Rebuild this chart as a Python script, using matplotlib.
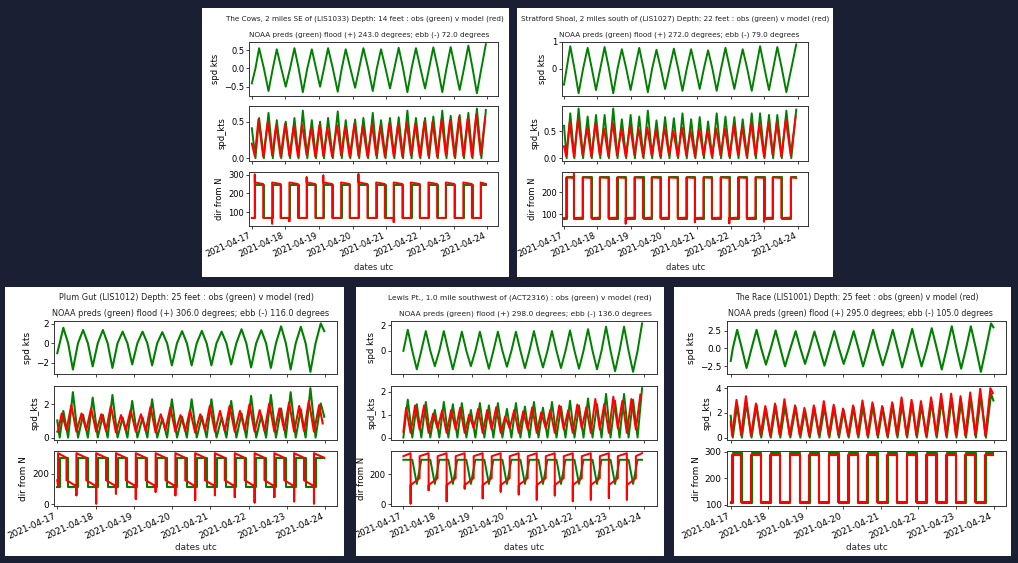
import numpy as np
import matplotlib
matplotlib.use("Agg")
import matplotlib.pyplot as plt
import matplotlib.dates as mdates
from matplotlib.patches import Rectangle

# ======================= DATA =======================
start_date = '2021-04-17T00:00:00'

# ---- The Cows ----
cows_title = "The Cows, 2 miles SE of (LIS1033) Depth: 14 feet : obs (green) v model (red)"
cows_flood, cows_ebb = 243.0, 72.0
cows_hours = [0, 2.6, 5.2, 8.6, 11.9, 15.0, 17.8, 21.0, 24.2, 27.3, 30.4, 33.4, 36.4, 39.6,
              42.8, 45.8, 48.7, 51.5, 54.4, 57.8, 61.3, 64.2, 67.0, 70.3, 73.7, 76.6, 79.6,
              83.0, 86.3, 89.2, 92.2, 95.4, 98.6, 101.7, 104.8, 107.9, 111.0, 114.0, 117.1,
              120.3, 123.6, 126.5, 129.5, 132.7, 135.9, 138.9, 141.9, 145.1, 148.3, 151.4,
              154.5, 157.5, 160.6, 163.8, 167.0]
cows_pred = [-0.41, 0, 0.55, 0, -0.62, 0, 0.52, 0, -0.50, 0, 0.55, 0, -0.65, 0, 0.52, 0,
             -0.50, 0, 0.55, 0, -0.64, 0, 0.52, 0, -0.53, 0, 0.55, 0, -0.62, 0, 0.52, 0,
             -0.55, 0, 0.56, 0, -0.65, 0, 0.55, 0, -0.55, 0, 0.57, 0, -0.65, 0, 0.58, 0,
             -0.59, 0, 0.62, 0, -0.68, 0, 0.66]
cows_model = [0.20, 0.03, 0.53, 0.02, 0.50, 0.04, 0.45, 0.02, 0.47, 0.03, 0.44, 0.02, 0.46,
              0.04, 0.42, 0.02, 0.45, 0.03, 0.42, 0.02, 0.45, 0.04, 0.43, 0.02, 0.47, 0.03,
              0.44, 0.02, 0.46, 0.04, 0.44, 0.02, 0.48, 0.03, 0.46, 0.02, 0.49, 0.04, 0.47,
              0.02, 0.50, 0.03, 0.50, 0.02, 0.53, 0.04, 0.52, 0.02, 0.56, 0.03, 0.54, 0.02,
              0.60, 0.04, 0.56]
cows_model_flood = [258, 250]
cows_model_ebb = [70, 70]
cows_spike_hours = [2.6, 15.0, 27.3, 39.6, 51.5, 76.6, 101.7]
cows_spike_vals = [300, 40, 52, 285, 295, 302, 48]
cows_lead = 0.5
cows_yticks = [[-0.5, 0.0, 0.5], [0.0, 0.5], [100, 200, 300]]

# ---- Stratford Shoal ----
strat_title = "Stratford Shoal, 2 miles south of (LIS1027) Depth: 22 feet : obs (green) v model (red)"
strat_flood, strat_ebb = 272.0, 79.0
strat_hours = [0, 1.9, 4.5, 7.5, 10.5, 13.75, 17.0, 20.0, 23.0, 26.1, 29.2, 32.3, 35.4, 38.5,
               41.6, 44.75, 47.9, 51.0, 54.1, 57.2, 60.3, 63.4, 66.5, 69.6, 72.7, 75.85, 79.0,
               82.1, 85.2, 88.3, 91.4, 94.5, 97.6, 100.6, 103.6, 106.7, 109.8, 112.95, 116.1,
               119.3, 122.5, 125.5, 128.5, 131.75, 135.0, 138.0, 141.0, 144.2, 147.4, 150.4,
               153.4, 156.65, 159.9, 163.45, 167.0]
strat_pred = [-0.60, 0, 0.83, 0, -0.92, 0, 0.77, 0, -0.80, 0, 0.80, 0, -0.92, 0, 0.72, 0,
              -0.80, 0, 0.77, 0, -0.88, 0, 0.70, 0, -0.76, 0, 0.74, 0, -0.83, 0, 0.72, 0,
              -0.76, 0, 0.68, 0, -0.83, 0, 0.77, 0, -0.76, 0, 0.72, 0, -0.83, 0, 0.83, 0,
              -0.80, 0, 0.80, 0, -0.88, 0, 0.90]
strat_model = [0.22, 0.04, 0.66, 0.03, 0.72, 0.05, 0.57, 0.03, 0.65, 0.06, 0.55, 0.03, 0.66,
               0.05, 0.54, 0.03, 0.60, 0.06, 0.54, 0.03, 0.57, 0.05, 0.53, 0.03, 0.57, 0.06,
               0.51, 0.03, 0.57, 0.05, 0.51, 0.03, 0.54, 0.06, 0.51, 0.03, 0.55, 0.05, 0.55,
               0.03, 0.61, 0.06, 0.57, 0.03, 0.65, 0.05, 0.63, 0.03, 0.66, 0.06, 0.66, 0.03,
               0.72, 0.05, 0.78]
strat_model_flood = [268, 266]
strat_model_ebb = [84, 86]
strat_spike_hours = [7.5, 44.75, 94.5, 119.3, 144.2]
strat_spike_vals = [283, 59, 65, 60, 68]
strat_lead = 0.4
strat_yticks = [[0, 1], [0.0, 0.5], [100, 200]]

# ---- Plum Gut ----
plum_title = "Plum Gut (LIS1012) Depth: 25 feet : obs (green) v model (red)"
plum_flood, plum_ebb = 306.0, 116.0
plum_hours = [0, 1.5, 3.8, 6.8, 9.8, 13.0, 16.2, 19.2, 22.2, 25.4, 28.6, 31.6, 34.6, 37.8,
              41.0, 44.0, 47.0, 50.25, 53.5, 56.5, 59.5, 62.7, 65.9, 68.9, 71.9, 75.1, 78.3,
              81.3, 84.3, 87.5, 90.7, 93.7, 96.7, 99.9, 103.1, 106.1, 109.1, 112.35, 115.6,
              118.6, 121.6, 124.8, 128.0, 131.0, 134.0, 137.2, 140.4, 143.4, 146.4, 149.6,
              152.8, 155.8, 158.8, 162.05, 165.3, 167.5]
plum_pred = [-1.03, 0, 1.60, 0, -2.73, 0, 1.37, 0, -2.40, 0, 1.37, 0, -2.56, 0, 1.20, 0,
             -2.20, 0, 1.20, 0, -2.30, 0, 1.15, 0, -2.30, 0, 1.25, 0, -2.30, 0, 1.28, 0,
             -2.30, 0, 1.20, 0, -2.20, 0, 1.45, 0, -2.50, 0, 1.35, 0, -2.56, 0, 1.75, 0,
             -2.73, 0, 1.70, 0, -2.97, 0, 2.05, 1.25]
plum_model = [0.35, 0.40, 1.45, 0.45, 1.95, 0.35, 1.45, 0.45, 1.75, 0.35, 1.40, 0.40, 1.90,
              0.30, 1.35, 0.45, 1.65, 0.35, 1.40, 0.40, 1.85, 0.30, 1.40, 0.45, 1.80, 0.35,
              1.35, 0.40, 1.65, 0.30, 1.40, 0.45, 1.90, 0.35, 1.60, 0.40, 1.90, 0.35, 1.60,
              0.45, 2.00, 0.35, 1.65, 0.40, 2.05, 0.35, 1.75, 0.45, 2.10, 0.35, 1.90, 0.40,
              2.20, 0.35, 1.95, 0.85]
plum_model_flood = [335, 305]
plum_model_ebb = [158, 118]
plum_spike_hours = [13.0, 25.4, 37.8, 50.25, 62.7, 75.1, 87.5, 99.9, 112.35, 124.8, 137.2,
                    149.6, 162.05]
plum_spike_vals = [59, 5, 70, 35, 82, 59, 28, 59, 47, 12, 47, 19, 5]
plum_lead = 1.0
plum_yticks = [[-2, 0, 2], [0, 2], [0, 200]]

# ---- Lewis Pt. ----
lewis_title = "Lewis Pt., 1.0 mile southwest of (ACT2316) : obs (green) v model (red)"
lewis_flood, lewis_ebb = 298.0, 136.0
lewis_hours = [0, 3.1, 6.25, 9.4, 12.55, 15.7, 18.85, 22.0, 25.15, 28.3, 31.45, 34.6, 37.75,
               40.9, 44.05, 47.2, 50.35, 53.5, 56.65, 59.8, 62.95, 66.1, 69.25, 72.4, 75.55,
               78.7, 81.85, 85.0, 88.15, 91.3, 94.45, 97.6, 100.75, 103.9, 107.05, 110.2,
               113.35, 116.5, 119.65, 122.8, 125.95, 129.1, 132.25, 135.4, 138.55, 141.7,
               144.85, 148.0, 151.15, 154.3, 157.45, 160.6, 163.75, 166.9]
lewis_pred = [0, 1.65, 0, -1.45, 0, 1.55, 0, -1.20, 0, 1.55, 0, -1.45, 0, 1.50, 0, -1.20,
              0, 1.50, 0, -1.40, 0, 1.50, 0, -1.25, 0, 1.50, 0, -1.35, 0, 1.55, 0, -1.30,
              0, 1.55, 0, -1.35, 0, 1.60, 0, -1.40, 0, 1.70, 0, -1.45, 0, 1.90, 0, -1.60,
              0, 1.90, 0, -1.65, 0, 2.15]
lewis_model = [0.25, 1.30, 0.20, 1.40, 0.35, 1.40, 0.20, 1.04, 0.40, 1.18, 0.20, 1.20, 0.35,
               1.30, 0.20, 1.00, 0.40, 1.25, 0.20, 1.20, 0.35, 1.32, 0.20, 0.92, 0.40, 1.20,
               0.20, 1.15, 0.35, 1.32, 0.20, 1.10, 0.40, 1.20, 0.20, 1.40, 0.35, 1.20, 0.20,
               1.44, 0.40, 1.32, 0.20, 1.68, 0.35, 1.47, 0.20, 1.78, 0.40, 1.60, 0.20, 1.68,
               0.35, 1.87]
lewis_model_flood = [322, 342]
lewis_model_ebb = [128, 175]
lewis_spike_hours = [6.25, 18.85, 31.45, 44.05, 56.65, 69.25, 81.85, 94.45, 107.05, 119.65,
                     132.25, 144.85, 157.45]
lewis_spike_vals = [5, 94, 20, 105, 40, 85, 66, 31, 59, 20, 31, 42, 31]
lewis_lead = 1.2
lewis_yticks = [[0, 2], [0, 1, 2], [0, 200]]

# ---- The Race ----
race_title = "The Race (LIS1001) Depth: 25 feet : obs (green) v model (red)"
race_flood, race_ebb = 295.0, 105.0
race_hours = [0, 1.3, 4.1, 7.1, 10.1, 13.3, 16.5, 19.5, 22.5, 25.6, 28.7, 31.7, 34.7, 38.1,
              41.5, 44.5, 47.5, 50.5, 53.5, 56.7, 59.9, 63.05, 66.2, 69.2, 72.2, 75.4, 78.6,
              81.6, 84.6, 87.8, 91.0, 94.1, 97.2, 100.4, 103.6, 106.6, 109.6, 112.8, 116.0,
              119.0, 122.0, 125.25, 128.5, 131.7, 134.9, 138.1, 141.3, 144.3, 147.3, 150.4,
              153.5, 156.7, 159.9, 163.15, 166.4, 167.9]
race_pred = [-1.76, 0, 2.64, 0, -2.78, 0, 2.64, 0, -2.30, 0, 2.55, 0, -2.55, 0, 2.45, 0,
             -2.20, 0, 2.40, 0, -2.45, 0, 2.45, 0, -2.20, 0, 2.45, 0, -2.55, 0, 2.64, 0,
             -2.40, 0, 2.64, 0, -2.70, 0, 2.78, 0, -2.55, 0, 2.87, 0, -3.00, 0, 3.15, 0,
             -2.87, 0, 3.15, 0, -3.33, 0, 3.55, 3.00]
race_model = [1.30, 0.15, 3.05, 0.20, 3.35, 0.15, 2.75, 0.20, 2.55, 0.15, 2.75, 0.20, 3.10,
              0.15, 2.60, 0.20, 2.40, 0.15, 2.60, 0.20, 2.95, 0.15, 2.65, 0.20, 2.35, 0.15,
              2.60, 0.20, 3.00, 0.15, 2.85, 0.20, 2.55, 0.15, 2.85, 0.20, 3.25, 0.15, 3.05,
              0.20, 2.95, 0.15, 3.25, 0.20, 3.55, 0.15, 3.55, 0.20, 3.35, 0.15, 3.65, 0.20,
              3.95, 0.15, 4.00, 3.60]
race_model_flood = [290, 290]
race_model_ebb = [112, 112]
race_spike_hours = []
race_spike_vals = []
race_lead = 0.4
race_yticks = [[-2.5, 0.0, 2.5], [0, 2, 4], [100, 200, 300]]

ylabels = ['spd kts', 'spd_kts', 'dir from N']
xlabel = 'dates utc'

# ======================= LAYOUT =======================
W, H = 1018, 563
BG = '#1b1f33'
fig = plt.figure(figsize=(W / 100, H / 100), dpi=100)
fig.patch.set_facecolor(BG)
T0 = mdates.date2num(np.datetime64(start_date))


def frac(x0, y0, x1, y1):
    return [x0 / W, 1 - y1 / H, (x1 - x0) / W, (y1 - y0) / H]


def segments(h, p):
    zi = [i for i in range(1, len(p) - 1) if p[i] == 0]
    ib = [0] + zi + [len(p) - 1]
    bounds = [h[i] for i in ib]
    signs = []
    for a, b in zip(ib[:-1], ib[1:]):
        seg = p[a:b + 1]
        signs.append(1 if seg[np.argmax(np.abs(seg))] > 0 else -1)
    return bounds, signs


def green_dir(bounds, signs, flood, ebb):
    xs, ys = [], []
    for k, s in enumerate(signs):
        d = flood if s > 0 else ebb
        xs += [bounds[k], bounds[k + 1]]
        ys += [d, d]
    return np.array(xs), np.array(ys)


def red_dir(bounds, signs, mflood, mebb, sh, sv, lead):
    tb = [bounds[0]] + [b - lead for b in bounds[1:-1]] + [bounds[-1]]
    spikes = {}
    inner = bounds[1:-1]
    for a, v in zip(sh, sv):
        k = 1 + int(np.argmin([abs(b - a) for b in inner]))
        spikes[k] = v
    xs, ys = [], []
    for k, s in enumerate(signs):
        st, en = mflood if s > 0 else mebb
        if k in spikes:
            xs.append(tb[k]); ys.append(spikes[k])
        xs += [tb[k], tb[k + 1]]
        ys += [st, en]
    return np.array(xs), np.array(ys)


def draw_panel(box, axx, rows, t1, t2, xlab_y, sc, fs_title, xlim_days,
               title, flood, ebb, hours, pred, model, mflood, mebb, sh, sv, lead,
               yticks, green_linear=False):
    h = np.asarray(hours, float)
    p = np.asarray(pred, float)
    m = np.asarray(model, float)
    if not (len(h) == len(p) == len(m)):
        raise ValueError(f"length mismatch {title}: {len(h)} {len(p)} {len(m)}")
    fig.patches.append(Rectangle((box[0] / W, 1 - box[3] / H), (box[2] - box[0]) / W,
                                 (box[3] - box[1]) / H, transform=fig.transFigure,
                                 facecolor='white', edgecolor='none', zorder=-5))
    fs_tick = 6.0 * sc
    lw = 1.4 * sc
    axes = [fig.add_axes(frac(axx[0], r[0], axx[1], r[1])) for r in rows]
    a1, a2, a3 = axes
    x = T0 + h / 24.0
    xm = T0 + np.clip(h - lead, h[0], h[-1]) / 24.0
    a1.plot(x, p, color='green', lw=lw)
    a2.plot(x, np.abs(p), color='green', lw=lw)
    a2.plot(xm, m, color='red', lw=lw)
    bounds, signs = segments(h, p)
    if green_linear:
        gx, gy = x, np.where(p >= 0, flood, ebb)
    else:
        gxh, gy = green_dir(bounds, signs, flood, ebb)
        gx = T0 + gxh / 24.0
    a3.plot(gx, gy, color='green', lw=lw)
    rxh, ry = red_dir(bounds, signs, mflood, mebb, sh, sv, lead)
    a3.plot(T0 + rxh / 24.0, ry, color='red', lw=lw)
    for ax, yt, yl in zip(axes, yticks, ylabels):
        ax.set_xlim(T0 + xlim_days[0], T0 + xlim_days[1])
        ax.xaxis.set_major_locator(mdates.DayLocator())
        ax.xaxis.set_major_formatter(mdates.DateFormatter('%Y-%m-%d'))
        ax.set_yticks(yt)
        ax.tick_params(labelsize=fs_tick, length=2.2 * sc, width=0.6, pad=1.5, color='#222222')
        for spn in ax.spines.values():
            spn.set_linewidth(0.7)
            spn.set_color('#333333')
        ax.set_ylabel(yl, fontsize=fs_tick, labelpad=3)
    a1.tick_params(labelbottom=False)
    a2.tick_params(labelbottom=False)
    for lbl in a3.get_xticklabels():
        lbl.set_rotation(24)
        lbl.set_ha('right')
    fig.text(t1[0] / W, 1 - t1[1] / H, title, ha='center', va='center',
             fontsize=fs_title, color='#222222')
    t2txt = f"NOAA preds (green) flood (+) {flood:.1f} degrees; ebb (-) {ebb:.1f} degrees"
    fig.text(t2[0] / W, 1 - t2[1] / H, t2txt, ha='center', va='center',
             fontsize=fs_title, color='#222222')
    fig.text((axx[0] + axx[1]) / 2 / W, 1 - xlab_y / H, xlabel, ha='center', va='center',
             fontsize=fs_tick, color='#222222')


rows_top = [(41.7, 95.7), (106, 160.7), (171.7, 226)]
rows_bot = [(321, 374.3), (385.7, 440), (450.7, 506)]

draw_panel((202, 8, 509, 277), (249.3, 497.7), rows_top, (364.5, 19), (369.3, 35), 267,
           1.0, 5.2, (-0.075, 7.31), cows_title, cows_flood, cows_ebb, cows_hours, cows_pred,
           cows_model, cows_model_flood, cows_model_ebb, cows_spike_hours, cows_spike_vals,
           cows_lead, cows_yticks)
draw_panel((517, 8, 833, 277), (562, 808.3), rows_top, (675.3, 19), (679.5, 35), 267,
           1.0, 5.2, (-0.06, 7.32), strat_title, strat_flood, strat_ebb, strat_hours,
           strat_pred, strat_model, strat_model_flood, strat_model_ebb, strat_spike_hours,
           strat_spike_vals, strat_lead, strat_yticks)
draw_panel((5, 287, 344, 556), (54.3, 337.3), rows_bot, (186.7, 297.7), (190.8, 313.3), 547,
           1.07, 5.9, (-0.078, 7.32), plum_title, plum_flood, plum_ebb, plum_hours, plum_pred,
           plum_model, plum_model_flood, plum_model_ebb, plum_spike_hours, plum_spike_vals,
           plum_lead, plum_yticks)
draw_panel((356, 287, 664, 556), (391, 656.7), rows_bot, (520, 297.7), (525, 313.3), 547,
           1.02, 5.4, (-0.36, 7.38), lewis_title, lewis_flood, lewis_ebb, lewis_hours,
           lewis_pred, lewis_model, lewis_model_flood, lewis_model_ebb, lewis_spike_hours,
           lewis_spike_vals, lewis_lead, lewis_yticks, green_linear=True)
draw_panel((674, 287, 1011, 556), (727, 1006.3), rows_bot, (857, 297.7), (860.8, 313.3), 547,
           1.07, 5.7, (-0.1, 7.34), race_title, race_flood, race_ebb, race_hours, race_pred,
           race_model, race_model_flood, race_model_ebb, race_spike_hours, race_spike_vals,
           race_lead, race_yticks)

fig.savefig('out.png', dpi=100, facecolor=BG)
